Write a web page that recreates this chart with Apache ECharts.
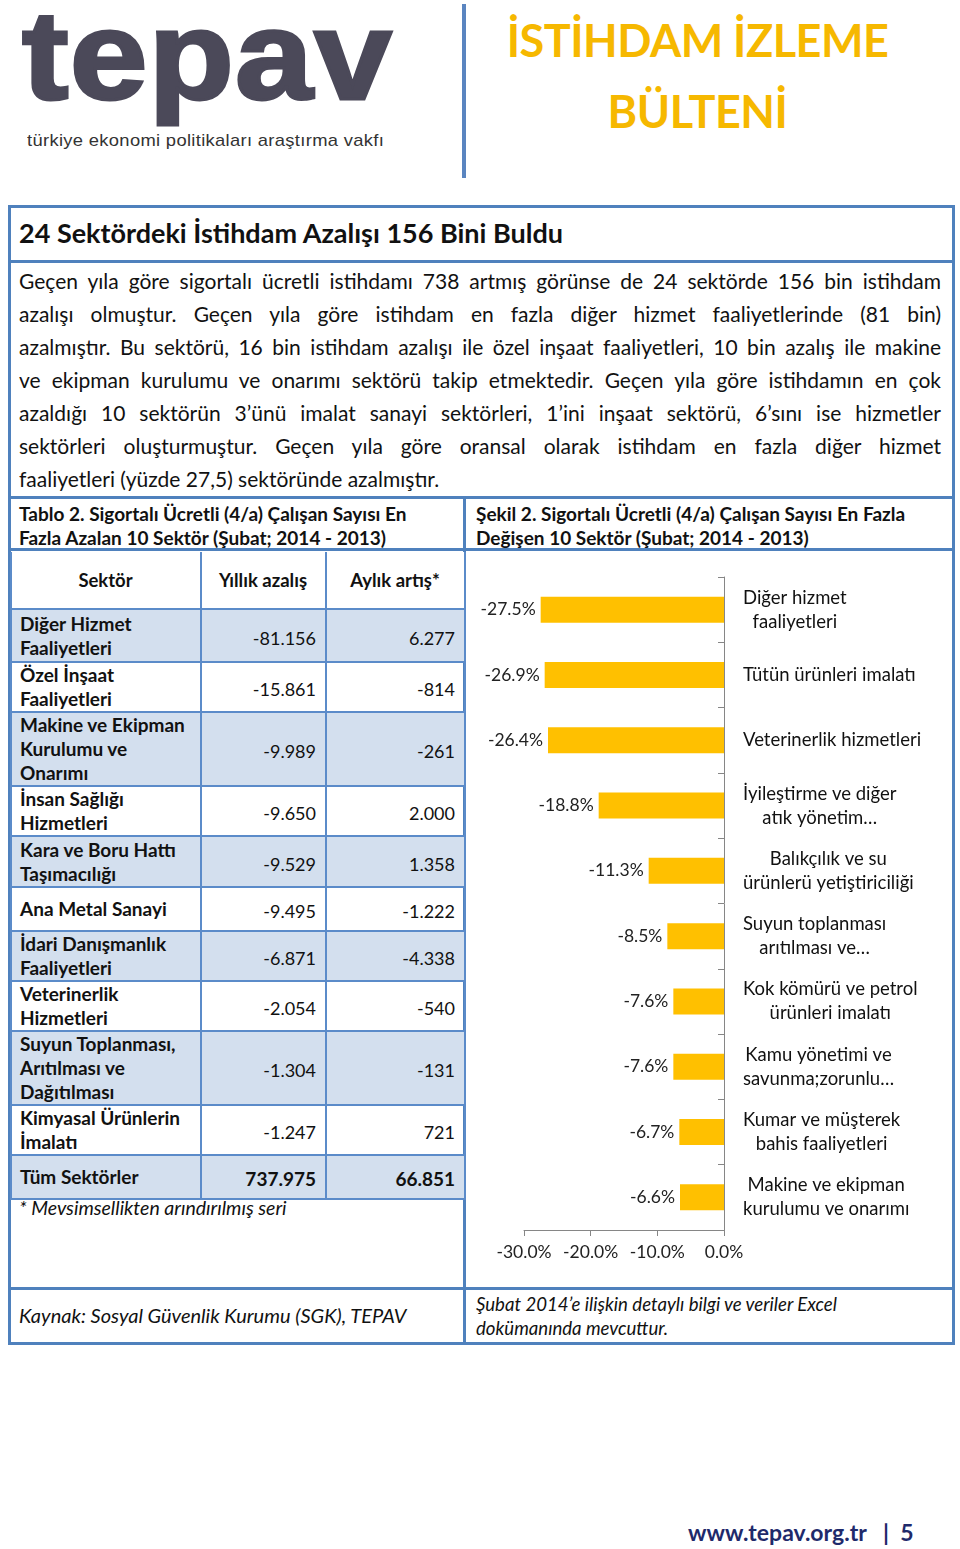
<!DOCTYPE html>
<html lang="tr">
<head>
<meta charset="utf-8">
<script src="https://cdn.jsdelivr.net/npm/echarts@6/dist/echarts.min.js"></script>
<style>
  html,body{margin:0;padding:0;background:#fff;}
  body{width:960px;height:1549px;position:relative;overflow:hidden;font-family:Lato,"Noto Sans",sans-serif;color:#111;}
  .abs{position:absolute;}
  .hl{position:absolute;background:#4f81bd;}
  .logo{left:22px;top:-20px;font-family:"Liberation Sans",Arial,sans-serif;font-weight:bold;font-size:126px;color:#4b4959;line-height:1.2;transform:scaleX(1.11);transform-origin:left top;-webkit-text-stroke:3px #4b4959;letter-spacing:1px;}
  .logosub{left:27px;top:131px;font-family:"Liberation Sans",Arial,sans-serif;font-size:17px;color:#333;letter-spacing:0.3px;transform:scaleX(1.08);transform-origin:left top;}
  .bigtitle{left:470px;width:455px;text-align:center;font-weight:bold;color:#f6b800;font-size:45px;letter-spacing:-0.5px;}
  .para{left:19px;width:922px;font-size:21px;color:#111;}
  .para div{height:33px;line-height:33px;white-space:nowrap;text-align:justify;text-align-last:justify;}
  .para div.last{text-align-last:left;}
  .cap{font-weight:bold;font-size:19px;line-height:24px;color:#111;}
  table.t{position:absolute;left:10px;top:552px;width:454px;border-collapse:collapse;table-layout:fixed;}
  table.t td{border:2px solid #5b8bc9;padding:0 9px 0 8px;font-size:18px;line-height:24px;vertical-align:middle;}
  table.t td.n{text-align:right;padding-right:9px;padding-top:4px;}
  table.t td.s{font-weight:bold;font-size:19px;}
  table.t tr.sh td{background:#d3dfee;}
  table.t tr.hd td{text-align:center;font-weight:bold;font-size:18.5px;background:#fff;}
  .it{font-style:italic;}
</style>
</head>
<body>
<div class="abs logo">tepav</div>
<div class="abs logosub">türkiye ekonomi politikaları araştırma vakfı</div>
<div class="hl" style="left:462px;top:4px;width:4px;height:174px;background:#5a85c0;"></div>
<div class="abs bigtitle" style="top:13px;">İSTİHDAM İZLEME</div>
<div class="abs bigtitle" style="top:84px;">BÜLTENİ</div>

<!-- outer frame -->
<div class="abs" style="left:8px;top:205px;width:941px;height:1134px;border:3px solid #4f81bd;"></div>
<div class="hl" style="left:8px;top:260px;width:947px;height:3px;"></div>
<div class="hl" style="left:8px;top:496px;width:947px;height:3px;"></div>
<div class="hl" style="left:8px;top:548px;width:947px;height:3px;"></div>
<div class="hl" style="left:8px;top:1287px;width:947px;height:3px;"></div>
<div class="hl" style="left:463px;top:498px;width:3px;height:844px;"></div>

<div class="abs" style="left:19px;top:216px;font-weight:bold;font-size:27px;color:#111;">24 Sektördeki İstihdam Azalışı 156 Bini Buldu</div>

<div class="abs para" id="para" style="top:264px;"></div>

<div class="abs cap" style="left:19px;top:502px;">Tablo 2. Sigortalı Ücretli (4/a) Çalışan Sayısı En<br>Fazla Azalan 10 Sektör (Şubat; 2014 - 2013)</div>
<div class="abs cap" style="left:476px;top:502px;">Şekil 2. Sigortalı Ücretli (4/a) Çalışan Sayısı En Fazla<br>Değişen 10 Sektör (Şubat; 2014 - 2013)</div>

<table class="t" id="tbl"></table>
<div class="abs it" style="left:19px;top:1196px;font-size:19.5px;">* Mevsimsellikten arındırılmış seri</div>

<div id="chart" class="abs" style="left:467px;top:551px;width:484px;height:736px;"></div>

<div class="abs it" style="left:19px;top:1303px;font-size:20px;">Kaynak: Sosyal Güvenlik Kurumu (SGK), TEPAV</div>
<div class="abs it" style="left:476px;top:1292px;line-height:24px;font-size:18.6px;">Şubat 2014’e ilişkin detaylı bilgi ve veriler Excel<br>dokümanında mevcuttur.</div>

<div class="abs" style="left:688px;top:1518px;font-weight:bold;font-size:23px;color:#1f2a6b;white-space:pre;">www.tepav.org.tr   |  5</div>

<script>
// ---------- paragraph text (explicit line breaks as in the reference) ----------
const paragraphLines = [
  "Geçen yıla göre sigortalı ücretli istihdamı 738 artmış görünse de 24 sektörde 156 bin istihdam",
  "azalışı olmuştur. Geçen yıla göre istihdam en fazla diğer hizmet faaliyetlerinde (81 bin)",
  "azalmıştır. Bu sektörü, 16 bin istihdam azalışı ile özel inşaat faaliyetleri, 10 bin azalış ile makine",
  "ve ekipman kurulumu ve onarımı sektörü takip etmektedir. Geçen yıla göre istihdamın en çok",
  "azaldığı 10 sektörün 3’ünü imalat sanayi sektörleri, 1’ini inşaat sektörü, 6’sını ise hizmetler",
  "sektörleri oluşturmuştur. Geçen yıla göre oransal olarak istihdam en fazla diğer hizmet",
  "faaliyetleri (yüzde 27,5) sektöründe azalmıştır."
];

// ---------- table data ----------
const tableHeaders = ["Sektör", "Yıllık azalış", "Aylık artış*"];
const tableSectors = [
  "Diğer Hizmet<br>Faaliyetleri",
  "Özel İnşaat<br>Faaliyetleri",
  "Makine ve Ekipman<br>Kurulumu ve<br>Onarımı",
  "İnsan Sağlığı<br>Hizmetleri",
  "Kara ve Boru Hattı<br>Taşımacılığı",
  "Ana Metal Sanayi",
  "İdari Danışmanlık<br>Faaliyetleri",
  "Veterinerlik<br>Hizmetleri",
  "Suyun Toplanması,<br>Arıtılması ve<br>Dağıtılması",
  "Kimyasal Ürünlerin<br>İmalatı",
  "Tüm Sektörler"
];
const tableYearly  = ["-81.156","-15.861","-9.989","-9.650","-9.529","-9.495","-6.871","-2.054","-1.304","-1.247","737.975"];
const tableMonthly = ["6.277","-814","-261","2.000","1.358","-1.222","-4.338","-540","-131","721","66.851"];

// ---------- chart data ----------
const chartCategories = [
  "Diğer hizmet\nfaaliyetleri",
  "Tütün ürünleri imalatı",
  "Veterinerlik hizmetleri",
  "İyileştirme ve diğer\natık yönetim…",
  "Balıkçılık ve su\nürünlerü yetiştiriciliği",
  "Suyun toplanması\narıtılması ve…",
  "Kok kömürü ve petrol\nürünleri imalatı",
  "Kamu yönetimi ve\nsavunma;zorunlu…",
  "Kumar ve müşterek\nbahis faaliyetleri",
  "Makine ve ekipman\nkurulumu ve onarımı"
];
const chartValues = [-27.5, -26.9, -26.4, -18.8, -11.3, -8.5, -7.6, -7.6, -6.7, -6.6];
const xTicks = [-30, -20, -10, 0];

// build paragraph
const para = document.getElementById('para');
paragraphLines.forEach((l, i) => {
  const d = document.createElement('div');
  d.textContent = l;
  if (i === paragraphLines.length - 1) d.className = 'last';
  para.appendChild(d);
});
// shrink font if any line is naturally wider than the column
(function fit() {
  const probe = document.createElement('span');
  probe.style.cssText = 'position:absolute;visibility:hidden;white-space:nowrap;font-size:21px;font-family:Lato,"Noto Sans",sans-serif;';
  document.body.appendChild(probe);
  let maxW = 0;
  paragraphLines.forEach(l => { probe.textContent = l; maxW = Math.max(maxW, probe.getBoundingClientRect().width); });
  probe.remove();
  const avail = 918;
  if (maxW > avail) para.style.fontSize = (21 * avail / maxW).toFixed(2) + 'px';
})();

// build table
const rowHeights = [57, 53, 50, 73, 49, 51, 44, 49, 50, 73, 50, 44];
const tbl = document.getElementById('tbl');
let html = '<colgroup><col style="width:190px"><col style="width:125px"><col style="width:139px"></colgroup>';
html += '<tr class="hd" style="height:' + rowHeights[0] + 'px"><td>' + tableHeaders[0] + '</td><td>' + tableHeaders[1] + '</td><td>' + tableHeaders[2] + '</td></tr>';
tableSectors.forEach((s, i) => {
  const last = i === tableSectors.length - 1;
  const cls = (i % 2 === 0) ? 'sh' : '';
  const bold = last ? 'font-weight:bold;font-size:19px;' : '';
  html += '<tr class="' + cls + '" style="height:' + rowHeights[i + 1] + 'px"><td class="s">' + s + '</td>' +
          '<td class="n" style="' + bold + '">' + tableYearly[i] + '</td>' +
          '<td class="n" style="' + bold + '">' + tableMonthly[i] + '</td></tr>';
});
tbl.innerHTML = html;
tbl.querySelectorAll('tr.hd td').forEach(td => td.style.borderTop = '0');

// chart
const chart = echarts.init(document.getElementById('chart'), null, {renderer: 'canvas'});
chart.setOption({
  backgroundColor: '#fff',
  animation: false,
  grid: {left: 57, top: 26, width: 200, height: 653, containLabel: false},
  xAxis: {
    type: 'value', min: xTicks[0], max: xTicks[xTicks.length - 1], interval: 10,
    axisLine: {show: true, lineStyle: {color: '#868686', width: 1}},
    axisTick: {show: true, length: 6, lineStyle: {color: '#868686'}},
    splitLine: {show: false},
    axisLabel: {formatter: v => v.toFixed(1) + '%', fontSize: 17.5, color: '#222', margin: 13, fontFamily: 'Lato'}
  },
  yAxis: {
    type: 'category', data: chartCategories, inverse: true, position: 'right',
    axisLine: {show: true, lineStyle: {color: '#868686', width: 1}},
    axisTick: {show: true, inside: true, length: 6, lineStyle: {color: '#868686'}},
    axisLabel: {
      margin: 19, fontSize: 18.5, color: '#111', fontFamily: 'Lato', lineHeight: 24,
      formatter: v => v.split('\n').map(s => '{c|' + s + '}').join('\n'),
      rich: {c: {align: 'center', fontSize: 18.5, color: '#111', fontFamily: 'Lato', lineHeight: 24}}
    }
  },
  series: [{
    type: 'bar', data: chartValues, barWidth: 26,
    itemStyle: {color: '#ffc000'},
    label: {show: true, position: 'left', distance: 5, formatter: p => p.value.toFixed(1) + '%',
            fontSize: 17.5, color: '#222', fontFamily: 'Lato'}
  }]
});
</script>
</body>
</html>
